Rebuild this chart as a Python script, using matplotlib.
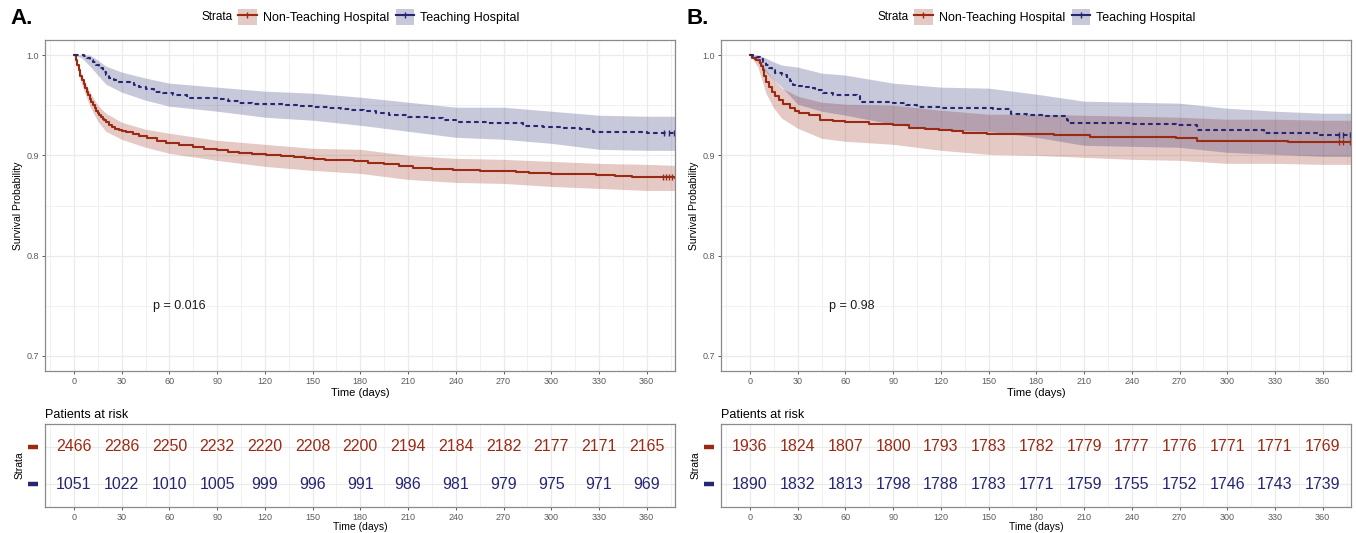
import numpy as np
import matplotlib
matplotlib.use('Agg')
import matplotlib.pyplot as plt
import matplotlib.transforms as mtransforms
from matplotlib.patches import Patch
from matplotlib.lines import Line2D

plt.rcParams['font.family'] = ['Liberation Sans', 'DejaVu Sans']

# ---------------------------------------------------------------- data
groups = ['Non-Teaching Hospital', 'Teaching Hospital']
risk_times = [0, 30, 60, 90, 120, 150, 180, 210, 240, 270, 300, 330, 360]
band_t = [0, 5, 10, 15, 20, 30, 45, 60, 90, 120, 150, 180, 210, 240, 270, 300, 330, 360, 378]

# panel A - Kaplan-Meier steps
a_red_t = [0, 1, 2, 3, 4, 5, 6, 7, 8, 9, 10, 11, 12, 13, 14, 15, 16, 17, 18, 19, 20,
           22, 24, 26, 28, 30, 33, 37, 41, 46, 52, 58, 66, 75, 82, 90,
           97, 104, 112, 121, 130, 138, 145, 151, 158, 165,
           176, 185, 195, 204, 213, 225, 238, 255, 269, 278,
           286, 300, 316, 328, 340, 351, 378]
a_red_s = [1.0, 0.995, 0.990, 0.985, 0.979, 0.975, 0.971, 0.967, 0.963, 0.960, 0.956, 0.953, 0.950, 0.947,
           0.944, 0.942, 0.940, 0.938, 0.936, 0.935, 0.933,
           0.930, 0.928, 0.926, 0.925, 0.924, 0.923, 0.921, 0.919, 0.917, 0.914, 0.912, 0.910, 0.908, 0.906,
           0.905, 0.903, 0.902, 0.901, 0.900, 0.899, 0.898, 0.897, 0.896, 0.8955, 0.895,
           0.894, 0.8925, 0.891, 0.889, 0.887, 0.886, 0.885, 0.8845, 0.884, 0.883,
           0.882, 0.8815, 0.881, 0.880, 0.879, 0.878, 0.8775]
a_red_lo = [1.0, 0.970, 0.949, 0.934, 0.924, 0.916, 0.908, 0.902, 0.895, 0.889, 0.885, 0.882, 0.876, 0.873,
            0.872, 0.869, 0.867, 0.865, 0.865]
a_red_hi = [1.0, 0.980, 0.963, 0.950, 0.942, 0.933, 0.926, 0.922, 0.915, 0.911, 0.907, 0.906, 0.900, 0.897,
            0.896, 0.894, 0.892, 0.891, 0.890]
a_red_cens = [370, 372, 374, 376]

a_blue_t = [0, 3, 6, 8, 10, 12, 14, 16, 18, 20, 22, 25, 27, 31, 35, 38, 41, 45, 50, 56, 62, 71, 80, 90,
            97, 104, 112, 121, 132, 142, 150, 160, 168, 174, 182, 190, 198, 210, 223, 232, 240, 260,
            278, 282, 295, 307, 318, 326, 340, 360, 378]
a_blue_s = [1.0, 1.0, 0.999, 0.997, 0.995, 0.993, 0.990, 0.987, 0.983, 0.980, 0.977, 0.975, 0.9735, 0.973,
            0.972, 0.970, 0.9685, 0.966, 0.9636, 0.962, 0.960, 0.9576, 0.957, 0.956,
            0.954, 0.9517, 0.9512, 0.951, 0.950, 0.949, 0.9485, 0.9477, 0.946, 0.945, 0.944, 0.942, 0.940,
            0.9385, 0.937, 0.935, 0.933, 0.9325,
            0.932, 0.9297, 0.9285, 0.9277, 0.926, 0.9237, 0.923, 0.9222, 0.922]
a_blue_lo = [1.0, 0.997, 0.989, 0.980, 0.971, 0.963, 0.955, 0.949, 0.944, 0.938, 0.935, 0.930, 0.924, 0.918,
             0.916, 0.912, 0.906, 0.905, 0.905]
a_blue_hi = [1.0, 1.0, 1.0, 0.995, 0.989, 0.983, 0.977, 0.972, 0.968, 0.964, 0.962, 0.958, 0.953, 0.948,
             0.948, 0.944, 0.940, 0.939, 0.939]
a_blue_cens = [371, 374, 377]

a_risk_red = [2466, 2286, 2250, 2232, 2220, 2208, 2200, 2194, 2184, 2182, 2177, 2171, 2165]
a_risk_blue = [1051, 1022, 1010, 1005, 999, 996, 991, 986, 981, 979, 975, 971, 969]
a_pval = 'p = 0.016'

# panel B
b_red_t = [0, 1, 3, 4, 6, 7, 8, 9, 10, 12, 14, 16, 18, 21, 25, 28, 31, 37, 44, 52, 60, 75, 90,
           100, 110, 119, 127, 134, 149, 191, 214, 268, 281, 338, 352, 378]
b_red_s = [1.0, 0.997, 0.996, 0.995, 0.992, 0.989, 0.985, 0.979, 0.9735, 0.968, 0.9636, 0.959, 0.955,
           0.951, 0.947, 0.944, 0.942, 0.940, 0.9354, 0.934, 0.933, 0.9315, 0.9305,
           0.9272, 0.9265, 0.9255, 0.924, 0.922, 0.921, 0.920, 0.9187, 0.917, 0.9144, 0.9138, 0.913, 0.913]
b_red_lo = [1.0, 0.988, 0.962, 0.947, 0.937, 0.927, 0.917, 0.914, 0.911, 0.905, 0.901, 0.900, 0.898, 0.896,
            0.895, 0.892, 0.892, 0.891, 0.891]
b_red_hi = [1.0, 0.998, 0.985, 0.975, 0.967, 0.959, 0.953, 0.951, 0.950, 0.945, 0.941, 0.941, 0.940, 0.939,
            0.938, 0.936, 0.936, 0.935, 0.935]
b_red_cens = [370, 373, 377]

b_blue_t = [0, 2, 4, 6, 8, 10, 12, 14, 16, 20, 23, 25, 27, 31, 35, 38, 41, 46, 52, 67, 69, 80, 90,
            98, 105, 121, 153, 164, 174, 186, 199, 200, 240, 268, 281, 300, 323, 340, 358, 378]
b_blue_s = [1.0, 0.999, 0.998, 0.996, 0.993, 0.990, 0.987, 0.985, 0.982, 0.980, 0.977, 0.974, 0.970,
            0.9695, 0.9685, 0.967, 0.965, 0.962, 0.960, 0.9596, 0.9536, 0.953, 0.952,
            0.950, 0.9487, 0.947, 0.9464, 0.941, 0.940, 0.9395, 0.935, 0.932, 0.9315, 0.9305, 0.9254,
            0.925, 0.9227, 0.9225, 0.920, 0.920]
b_blue_lo = [1.0, 0.993, 0.983, 0.975, 0.968, 0.951, 0.944, 0.940, 0.931, 0.925, 0.924, 0.918, 0.910, 0.909,
             0.908, 0.903, 0.901, 0.899, 0.899]
b_blue_hi = [1.0, 1.0, 0.997, 0.993, 0.990, 0.988, 0.982, 0.980, 0.972, 0.968, 0.967, 0.961, 0.954, 0.953,
             0.952, 0.947, 0.944, 0.942, 0.942]
b_blue_cens = [370, 373, 377]

b_risk_red = [1936, 1824, 1807, 1800, 1793, 1783, 1782, 1779, 1777, 1776, 1771, 1771, 1769]
b_risk_blue = [1890, 1832, 1813, 1798, 1788, 1783, 1771, 1759, 1755, 1752, 1746, 1743, 1739]
b_pval = 'p = 0.98'

# ---------------------------------------------------------------- style
RED = '#9b2a14'
BLUE = '#262673'
BAND_ALPHA = 0.25
GRID = '#ebebeb'
BORDER = '#8a8a8a'
TICKCOL = '#5a5a5a'
W, H = 1356, 533
XLIM = (-18.2, 377.8)


def px_axes(fig, left, top, right, bottom):
    return fig.add_axes([left / W, 1 - bottom / H, (right - left) / W, (bottom - top) / H])


def style_axes(ax):
    for s in ax.spines.values():
        s.set_color(BORDER)
        s.set_linewidth(0.9)
    ax.set_xlim(*XLIM)
    ax.set_xticks(risk_times)
    ax.set_xticks([t + 15 for t in risk_times[:-1]] + [-15, 375], minor=True)
    ax.grid(True, which='major', color=GRID, lw=0.9)
    ax.grid(True, which='minor', color=GRID, lw=0.5)
    ax.set_axisbelow(True)
    ax.tick_params(which='major', length=2.5, width=0.7, color=TICKCOL, labelcolor=TICKCOL, labelsize=6.5, pad=2)
    ax.tick_params(which='minor', length=0)


def draw_curve(ax, t, s, lo, hi, cens, color, ls):
    ax.fill_between(band_t, lo, hi, color=color, alpha=BAND_ALPHA, lw=0)
    ax.step(t, s, where='post', color=color, lw=1.5, ls=ls)
    # censor marks
    idx = np.searchsorted(t, cens, side='right') - 1
    ax.plot(cens, np.array(s)[idx], ls='none', marker='|', ms=4.5, mew=1.0, color=color)


def draw_panel(fig, x0, letter, red, blue, risk_red, risk_blue, pval):
    ax = px_axes(fig, x0 + 45, 40, x0 + 675, 371)
    style_axes(ax)
    draw_curve(ax, *red, RED, '-')
    draw_curve(ax, *blue, BLUE, (0, (2.2, 1.6)))
    ax.set_ylim(0.685, 1.015)
    ax.set_yticks([0.7, 0.8, 0.9, 1.0])
    ax.set_yticklabels(['0.7', '0.8', '0.9', '1.0'])
    ax.set_yticks([0.75, 0.85, 0.95], minor=True)
    ax.set_xlabel('Time (days)', fontsize=8, labelpad=1)
    ax.set_ylabel('Survival Probability', fontsize=7.5, labelpad=2.5)
    ax.text(49.7, 0.75, pval, fontsize=9, va='center', ha='left', color='#1a1a1a')

    # risk table
    rt = px_axes(fig, x0 + 45, 424, x0 + 675, 507)
    style_axes(rt)
    rt.tick_params(axis='x', pad=1.5)
    rt.set_ylim(0.4, 2.6)
    rt.set_yticks([1, 2])
    rt.set_yticklabels(['', ''])
    rt.tick_params(axis='y', length=0)
    for t, n in zip(risk_times, risk_red):
        rt.text(t, 2, str(n), color=RED, fontsize=11.5, ha='center', va='center')
    for t, n in zip(risk_times, risk_blue):
        rt.text(t, 1, str(n), color=BLUE, fontsize=11.5, ha='center', va='center')
    trans = mtransforms.blended_transform_factory(rt.transAxes, rt.transData)
    for yv, c in [(2, RED), (1, BLUE)]:
        rt.plot([-0.027, -0.011], [yv, yv], color=c, lw=3.2, transform=trans, clip_on=False,
                solid_capstyle='butt')
    rt.set_xlabel('Time (days)', fontsize=7.5, labelpad=0)
    rt.set_ylabel('Strata', fontsize=7.5, labelpad=13)
    rt.set_title('Patients at risk', fontsize=9, loc='left', pad=4)

    fig.text((x0 + 10) / W, 1 - 18 / H, letter, fontsize=16, fontweight='bold', va='center', ha='left')

    # legend
    fig.text((x0 + 233) / W, 1 - 16.5 / H, 'Strata', fontsize=8.5, va='center', ha='right')
    handles = []
    for c in [RED, BLUE]:
        handles.append((Patch(facecolor=c, alpha=BAND_ALPHA, edgecolor='none'),
                        Line2D([], [], color=c, lw=1.5, marker='|', ms=5, mew=1.0)))
    fig.legend(handles, groups, loc='center left', bbox_to_anchor=((x0 + 238) / W, 1 - 17 / H),
               ncol=2, frameon=False, fontsize=9, handlelength=1.5, handleheight=1.5,
               handletextpad=0.5, columnspacing=0.5, borderpad=0, borderaxespad=0)


fig = plt.figure(figsize=(W / 100, H / 100), dpi=100)
draw_panel(fig, 0, 'A.',
           (a_red_t, a_red_s, a_red_lo, a_red_hi, a_red_cens),
           (a_blue_t, a_blue_s, a_blue_lo, a_blue_hi, a_blue_cens),
           a_risk_red, a_risk_blue, a_pval)
draw_panel(fig, 676, 'B.',
           (b_red_t, b_red_s, b_red_lo, b_red_hi, b_red_cens),
           (b_blue_t, b_blue_s, b_blue_lo, b_blue_hi, b_blue_cens),
           b_risk_red, b_risk_blue, b_pval)
fig.savefig('out.png', dpi=100)
